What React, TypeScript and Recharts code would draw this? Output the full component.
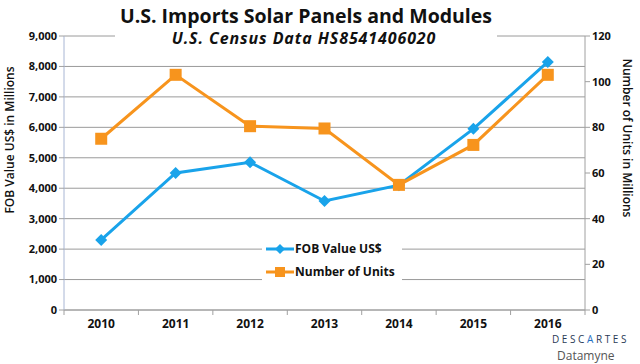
import { LineChart, Line, XAxis, YAxis, CartesianGrid } from 'recharts';

const years = ['2010', '2011', '2012', '2013', '2014', '2015', '2016'];
const fobValue = [2300, 4500, 4850, 3580, 4100, 5950, 8150];
const units = [75, 103, 80.5, 79.5, 54.8, 72.3, 103];
const leftTicks = [0, 1000, 2000, 3000, 4000, 5000, 6000, 7000, 8000, 9000];
const rightTicks = [0, 20, 40, 60, 80, 100, 120];

const data = years.map((year, i) => ({ year, fob: fobValue[i], units: units[i] }));

const FONT = '"Open Sans", "Noto Sans", sans-serif';
const BLUE = '#19a3ea';
const ORANGE = '#f7941d';
const PLOT_LEFT = 64;
const PLOT_RIGHT = 585;
const BAND = (PLOT_RIGHT - PLOT_LEFT) / years.length;

const fmt = (v: number) => v.toLocaleString('en-US');

// year label centred in the band, tick mark on the band's left edge
function YearTick(props: any) {
  const { x, y, payload, index } = props;
  return (
    <g>
      <line x1={x - BAND / 2} y1={y - 8} x2={x - BAND / 2} y2={y - 3} stroke="#a0a0a0" />
      {index === years.length - 1 && (
        <line x1={x + BAND / 2} y1={y - 8} x2={x + BAND / 2} y2={y - 3} stroke="#a0a0a0" />
      )}
      <text x={x} y={y + 10} textAnchor="middle" fontSize={12} fontWeight={700} fill="#111" fontFamily={FONT}>
        {payload.value}
      </text>
    </g>
  );
}

function LegendBox() {
  const rows = [
    { label: 'FOB Value US$', color: BLUE, diamond: true },
    { label: 'Number of Units', color: ORANGE, diamond: false },
  ];
  return (
    <div style={{ position: 'absolute', left: 262, top: 237, background: '#fff', padding: '0 4px', width: 132 }}>
      {rows.map((r) => (
        <div key={r.label} style={{ display: 'flex', alignItems: 'center', height: 23 }}>
          <svg width={28} height={12}>
            <line x1={0} y1={6} x2={28} y2={6} stroke={r.color} strokeWidth={3} />
            {r.diamond ? (
              <polygon points="14,1 19,6 14,11 9,6" fill={r.color} />
            ) : (
              <rect x={9} y={1} width={10} height={10} fill={r.color} />
            )}
          </svg>
          <span style={{ fontFamily: FONT, fontSize: 12, fontWeight: 700, color: '#111', marginLeft: 1 }}>
            {r.label}
          </span>
        </div>
      ))}
    </div>
  );
}

const diamondDot = (props: any) => {
  const { cx, cy, index } = props;
  return <polygon key={index} points={`${cx},${cy - 6} ${cx + 6},${cy} ${cx},${cy + 6} ${cx - 6},${cy}`} fill={BLUE} />;
};

const squareDot = (props: any) => {
  const { cx, cy, index } = props;
  return <rect key={index} x={cx - 6} y={cy - 6} width={12} height={12} fill={ORANGE} />;
};

const tickStyle = { fontSize: 11, fontWeight: 700, fill: '#111', fontFamily: FONT };

export default function App() {
  return (
    <div style={{ position: 'absolute', left: 0, top: 0, width: 640, height: 364, background: '#fff', fontFamily: FONT }}>
      <LineChart width={640} height={364} data={data} margin={{ top: 36, right: 0, bottom: 0, left: 0 }}>
        <CartesianGrid horizontal vertical={false} stroke="#9a9a9a" yAxisId="left" />
        <XAxis
          dataKey="year"
          scale="band"
          tickLine={false}
          axisLine={{ stroke: '#a0a0a0' }}
          tick={<YearTick />}
          interval={0}
          height={54}
        />
        <YAxis
          yAxisId="left"
          domain={[0, 9000]}
          ticks={leftTicks}
          interval={0}
          width={PLOT_LEFT}
          tickFormatter={fmt}
          axisLine={{ stroke: '#a8b6d4' }}
          tickLine={{ stroke: '#a0a0a0' }}
          tickSize={5}
          tick={tickStyle}
        />
        <YAxis
          yAxisId="right"
          orientation="right"
          domain={[0, 120]}
          ticks={rightTicks}
          interval={0}
          width={640 - PLOT_RIGHT}
          axisLine={{ stroke: '#a0a0a0' }}
          tickLine={{ stroke: '#a0a0a0' }}
          tickSize={5}
          tick={tickStyle}
        />
        <rect x={115} y={28} width={382} height={20} fill="#fff" />
        <text x={306} y={23} textAnchor="middle" fontSize={19.5} fontWeight={700} fill="#111" fontFamily={FONT}>
          U.S. Imports Solar Panels and Modules
        </text>
        <text x={304} y={44} textAnchor="middle" fontSize={16} fontWeight={700} fontStyle="italic" letterSpacing={0.9} fill="#111" fontFamily={FONT}>
          U.S. Census Data HS8541406020
        </text>
        <text
          transform="translate(14,140) rotate(-90)"
          textAnchor="middle"
          fontSize={12}
          fontWeight={600}
          fill="#111"
          fontFamily={FONT}
        >
          FOB Value US$ in Millions
        </text>
        <text
          transform="translate(623,138) rotate(90)"
          textAnchor="middle"
          fontSize={12}
          fontWeight={600}
          fill="#111"
          fontFamily={FONT}
        >
          Number of Units in Millions
        </text>
        <Line
          yAxisId="left"
          dataKey="fob"
          name="FOB Value US$"
          stroke={BLUE}
          strokeWidth={3}
          dot={diamondDot}
          isAnimationActive={false}
        />
        <Line
          yAxisId="right"
          dataKey="units"
          name="Number of Units"
          stroke={ORANGE}
          strokeWidth={3}
          dot={squareDot}
          isAnimationActive={false}
        />
      </LineChart>
      <LegendBox />
      <svg style={{ position: 'absolute', left: 540, top: 330 }} width={100} height={34}>
        <text x={12} y={13} fontSize={10} letterSpacing={2.6} fill="#2a3a55" fontFamily={FONT}>
          DESC<tspan fill="#1e6fc2">A</tspan>RTES
        </text>
        <text x={17} y={30} fontSize={12} fill="#555" fontFamily={FONT}>
          Datamyne
        </text>
      </svg>
    </div>
  );
}
